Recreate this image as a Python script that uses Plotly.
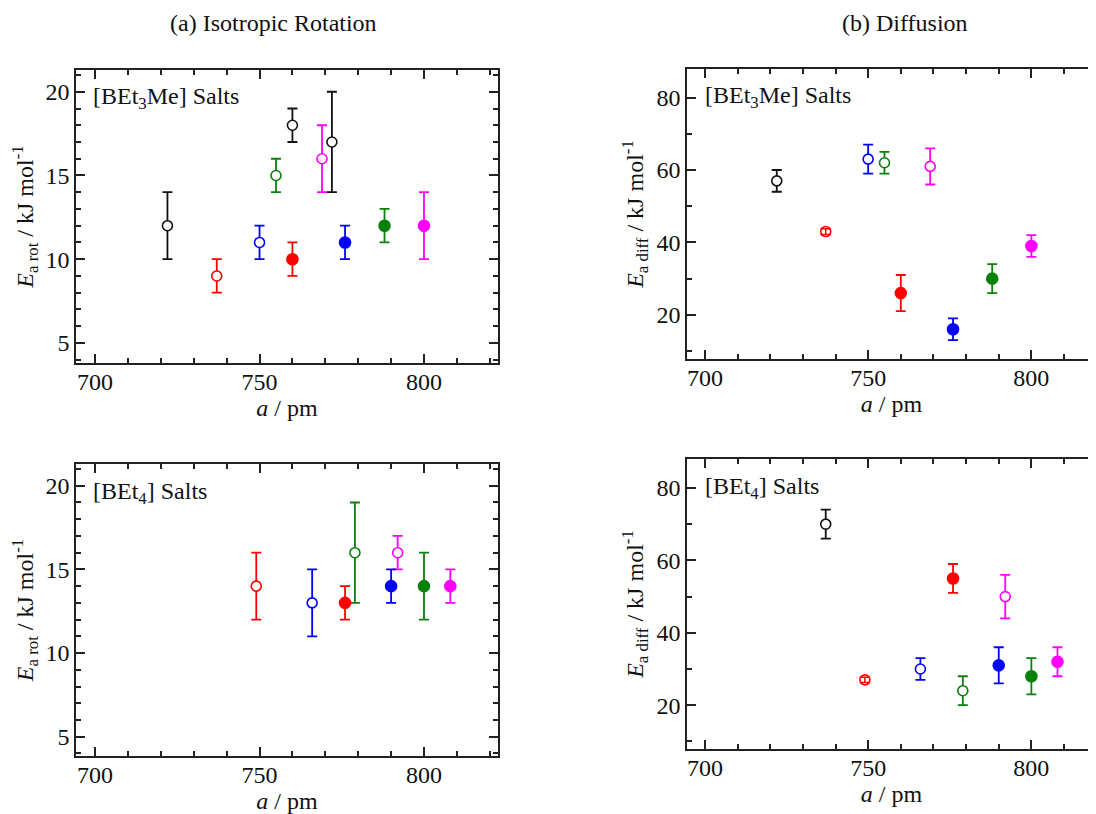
import plotly.graph_objects as go

# ---------------- data ----------------
# (a) Isotropic rotation, [BEt3Me] salts
rot_me_a = [722, 737, 750, 755, 760, 769, 772, 760, 776, 788, 800]
rot_me_E = [12, 9, 11, 15, 18, 16, 17, 10, 11, 12, 12]
rot_me_up = [2, 1, 1, 1, 1, 2, 3, 1, 1, 1, 2]
rot_me_dn = [2, 1, 1, 1, 1, 2, 3, 1, 1, 1, 2]
rot_me_grp = ["black", "red", "blue", "green", "black", "magenta", "black", "red", "blue", "green", "magenta"]
rot_me_form = ["open", "open", "open", "open", "open", "open", "open", "filled", "filled", "filled", "filled"]

# (a) Isotropic rotation, [BEt4] salts
rot_et_a = [749, 766, 779, 792, 776, 790, 800, 808]
rot_et_E = [14, 13, 16, 16, 13, 14, 14, 14]
rot_et_up = [2, 2, 3, 1, 1, 1, 2, 1]
rot_et_dn = [2, 2, 3, 1, 1, 1, 2, 1]
rot_et_grp = ["red", "blue", "green", "magenta", "red", "blue", "green", "magenta"]
rot_et_form = ["open", "open", "open", "open", "filled", "filled", "filled", "filled"]

# (b) Diffusion, [BEt3Me] salts
dif_me_a = [722, 737, 750, 755, 769, 760, 776, 788, 800]
dif_me_E = [57, 43, 63, 62, 61, 26, 16, 30, 39]
dif_me_up = [3, 0.8, 4, 3, 5, 5, 3, 4, 3]
dif_me_dn = [3, 0.8, 4, 3, 5, 5, 3, 4, 3]
dif_me_grp = ["black", "red", "blue", "green", "magenta", "red", "blue", "green", "magenta"]
dif_me_form = ["open", "open", "open", "open", "open", "filled", "filled", "filled", "filled"]

# (b) Diffusion, [BEt4] salts
dif_et_a = [737, 749, 766, 779, 792, 776, 790, 800, 808]
dif_et_E = [70, 27, 30, 24, 50, 55, 31, 28, 32]
dif_et_up = [4, 0.7, 3, 4, 6, 4, 5, 5, 4]
dif_et_dn = [4, 0.7, 3, 4, 6, 4, 5, 5, 4]
dif_et_grp = ["black", "red", "blue", "green", "magenta", "red", "blue", "green", "magenta"]
dif_et_form = ["open", "open", "open", "open", "open", "filled", "filled", "filled", "filled"]

x_ticks = [700, 750, 800]
rot_ticks = [5, 10, 15, 20]
dif_ticks = [20, 40, 60, 80]

# ---------------- styles ----------------
COL = {"black": "#111111", "red": "#ff0000", "blue": "#0000ff",
       "green": "#0a820a", "magenta": "#ff00ff"}
FONT = "'Liberation Serif', 'Times New Roman', Times, 'DejaVu Serif', serif"
AX = "#222222"
OFF = 8                      # default page margin of the html body
W, H = 1096 - OFF, 814 - OFF

fig = go.Figure()

panels = [
    (rot_me_a, rot_me_E, rot_me_up, rot_me_dn, rot_me_grp, rot_me_form, "x", "y"),
    (rot_et_a, rot_et_E, rot_et_up, rot_et_dn, rot_et_grp, rot_et_form, "x2", "y2"),
    (dif_me_a, dif_me_E, dif_me_up, dif_me_dn, dif_me_grp, dif_me_form, "x3", "y3"),
    (dif_et_a, dif_et_E, dif_et_up, dif_et_dn, dif_et_grp, dif_et_form, "x4", "y4"),
]

for xs, ys, up, dn, grp, form, xa, ya in panels:
    for i in range(len(xs)):
        c = COL[grp[i]]
        filled = form[i] == "filled"
        fig.add_trace(go.Scatter(
            x=[xs[i]], y=[ys[i]], xaxis=xa, yaxis=ya, mode="markers",
            marker=dict(symbol="circle", size=11 if filled else 10,
                        color=c if filled else "white",
                        line=dict(color=c, width=1.6)),
            error_y=dict(type="data", symmetric=False, array=[up[i]], arrayminus=[dn[i]],
                         color=c, thickness=1.8, width=5),
            showlegend=False, cliponaxis=False))
        if up[i] < 1:
            # very short bars: caps drawn over the marker
            fig.add_trace(go.Scatter(
                x=[xs[i]], y=[ys[i]], xaxis=xa, yaxis=ya, mode="markers",
                marker=dict(size=0.1, color=c, opacity=0),
                error_y=dict(type="data", symmetric=False, array=[up[i]], arrayminus=[dn[i]],
                             color=c, thickness=1.5, width=5),
                showlegend=False, hoverinfo="skip"))


def px_x(p):
    return (p - OFF) / W


def px_y(p):
    return 1 - (p - OFF) / H


tickfont = dict(family=FONT, size=24, color="#111111")
titlefont = dict(family=FONT, size=24, color="#111111")


def xaxis(dom, rng):
    return dict(domain=dom, range=rng, tickmode="array", tickvals=x_ticks,
                ticks="inside", ticklen=9, tickwidth=1.5, tickcolor=AX,
                minor=dict(dtick=10, tick0=700, ticks="inside", ticklen=5,
                           tickwidth=1.5, tickcolor=AX),
                showline=True, linecolor=AX, linewidth=1.5, mirror="ticks",
                showgrid=False, zeroline=False, tickfont=tickfont,
                ticklabelstandoff=-4,
                title=dict(text="<i>a</i> / pm", font=titlefont, standoff=2))


def yaxis(dom, rng, tv, mdt, label, mirror=True):
    return dict(domain=dom, range=rng, tickmode="array", tickvals=tv,
                ticks="inside", ticklen=9, tickwidth=1.5, tickcolor=AX,
                minor=dict(dtick=mdt, tick0=0, ticks="inside", ticklen=5,
                           tickwidth=1.5, tickcolor=AX),
                showline=True, linecolor=AX, linewidth=1.5,
                mirror="ticks" if mirror else False,
                showgrid=False, zeroline=False, tickfont=tickfont,
                title=dict(text=label, font=titlefont, standoff=6))


rot_label = "<i>E</i><sub>a rot</sub> / kJ mol<sup>-1</sup>"
dif_label = "<i>E</i><sub>a diff</sub> / kJ mol<sup>-1</sup>"

L_dom = [px_x(76), px_x(498)]
R_dom = [px_x(687), 1.0]

fig.update_layout(
    width=W, height=H, margin=dict(l=0, r=0, t=0, b=0),
    paper_bgcolor="white", plot_bgcolor="white",
    font=dict(family=FONT, size=24, color="#111111"),
    xaxis=dict(xaxis(L_dom, [694.2, 822.5]), anchor="y"),
    yaxis=dict(yaxis([px_y(363), px_y(70)], [3.8, 21.3], rot_ticks, 1, rot_label), anchor="x"),
    xaxis2=dict(xaxis(L_dom, [694.2, 822.5]), anchor="y2"),
    yaxis2=dict(yaxis([px_y(756), px_y(464)], [3.85, 21.3], rot_ticks, 1, rot_label), anchor="x2"),
    xaxis3=dict(xaxis(R_dom, [694.5, 819.8]), anchor="y3"),
    yaxis3=dict(yaxis([px_y(359), px_y(69)], [7.8, 87.9], dif_ticks, 10, dif_label, mirror=False), anchor="x3"),
    xaxis4=dict(xaxis(R_dom, [694.5, 819.8]), anchor="y4"),
    yaxis4=dict(yaxis([px_y(749), px_y(459)], [7.9, 88.0], dif_ticks, 10, dif_label, mirror=False), anchor="x4"),
)

ann = [
    ("(a) Isotropic Rotation", 273, 23, "center"),
    ("(b) Diffusion", 905, 23, "center"),
    ("[BEt<sub>3</sub>Me] Salts", 91, 98, "left"),
    ("[BEt<sub>4</sub>] Salts", 91, 493, "left"),
    ("[BEt<sub>3</sub>Me] Salts", 703, 97, "left"),
    ("[BEt<sub>4</sub>] Salts", 703, 488, "left"),
]
for text, xp, yp, al in ann:
    fig.add_annotation(text=text, x=px_x(xp), y=px_y(yp), xref="paper", yref="paper",
                       xanchor=al, yanchor="middle", showarrow=False,
                       font=dict(family=FONT, size=24, color="#111111"))

fig.write_html("out.html")
